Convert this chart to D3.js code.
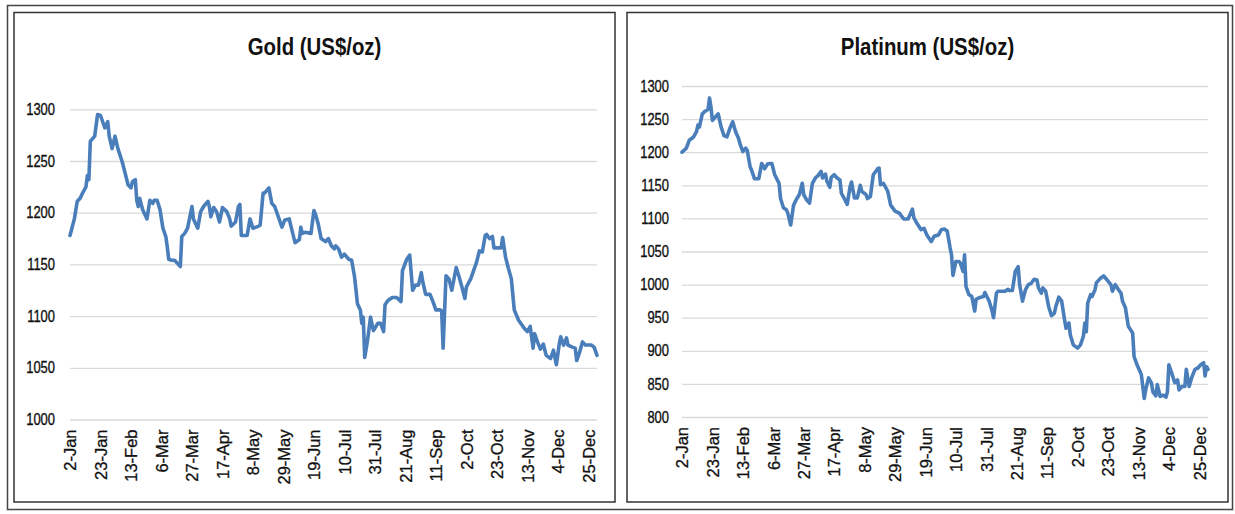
<!DOCTYPE html>
<html>
<head>
<meta charset="utf-8">
<script src="https://cdn.jsdelivr.net/npm/d3@7"></script>
<style>
	body { margin: 0; background: #fff; }
	text { font-family: "Liberation Sans", Arial, sans-serif; fill: #111; }
</style>
</head>
<body>
<div id="chart"></div>
<script>
//-------------------------------------
// data (day offset from 2-Jan-2015, US$/oz)
//-------------------------------------
var startDate = new Date(2015, 0, 2);
var endDate = new Date(2015, 11, 31);
var tickStepDays = 21;

var goldTicks = [1000, 1050, 1100, 1150, 1200, 1250, 1300];
var platinumTicks = [800, 850, 900, 950, 1000, 1050, 1100, 1150, 1200, 1250, 1300];

var goldSeries = [
	[0,1178],[3,1194],[5,1211],[7,1214],[9,1220],[11,1225],[12,1236],[13,1232],[14,1269],[17,1274],
	[19,1295],[21,1294],[23,1286],[24,1282],[26,1288],[27,1274],[29,1262],[31,1274],[33,1262],[36,1249],
	[38,1238],[40,1227],[42,1224],[43,1230],[45,1232],[46,1212],[47,1206],[48,1214],[50,1203],[53,1194],
	[55,1212],[57,1209],[58,1212],[60,1212],[62,1203],[64,1185],[66,1177],[67,1167],[68,1155],[70,1154],
	[72,1154],[74,1151],[76,1148],[77,1177],[79,1180],[81,1185],[84,1206],[85,1194],[88,1185],[90,1201],
	[92,1206],[95,1211],[96,1206],[97,1196],[99,1205],[101,1201],[103,1191],[105,1205],[108,1201],[110,1194],
	[111,1187],[114,1191],[116,1206],[117,1208],[118,1178],[122,1178],[124,1194],[126,1185],[130,1187],[131,1188],
	[133,1219],[134,1219],[137,1224],[139,1209],[141,1206],[144,1194],[146,1186],[148,1193],[151,1194],[152,1188],
	[155,1171],[158,1174],[159,1186],[160,1180],[162,1181],[166,1180],[168,1202],[169,1199],[171,1189],[173,1175],
	[176,1172],[178,1175],[180,1168],[182,1165],[183,1168],[185,1165],[187,1157],[189,1160],[192,1155],[194,1154],
	[196,1138],[198,1112],[200,1106],[201,1093],[202,1099],[203,1060],[205,1077],[207,1099],[209,1086],[212,1093],
	[214,1093],[216,1085],[217,1111],[219,1115],[222,1118],[225,1118],[228,1114],[229,1144],[232,1155],[234,1159],
	[236,1125],[238,1130],[240,1130],[242,1142],[243,1133],[245,1121],[248,1121],[250,1114],[252,1106],[255,1106],
	[256,1105],[257,1069],[259,1139],[261,1136],[263,1125],[266,1147],[268,1138],[270,1128],[272,1117],[273,1128],
	[276,1136],[278,1144],[280,1152],[282,1163],[284,1162],[286,1178],[287,1179],[289,1175],[291,1177],[292,1166],
	[295,1166],[297,1166],[298,1176],[300,1157],[302,1146],[304,1136],[306,1106],[309,1096],[313,1088],[315,1085],
	[317,1090],[319,1069],[320,1083],[322,1075],[324,1068],[326,1073],[328,1062],[331,1059],[333,1067],[335,1053],
	[337,1073],[338,1080],[340,1072],[342,1079],[343,1072],[346,1070],[348,1069],[349,1057],[351,1065],[353,1075],
	[355,1072],[359,1072],[361,1070],[363,1062]
];

var platinumSeries = [
	[0,1200],[3,1206],[5,1218],[8,1223],[10,1231],[11,1241],[12,1238],[14,1258],[16,1262],[18,1265],
	[19,1282],[20,1268],[21,1248],[23,1253],[25,1258],[27,1238],[29,1225],[31,1223],[33,1236],[35,1246],
	[37,1231],[39,1221],[40,1213],[42,1201],[44,1206],[45,1203],[47,1178],[48,1173],[50,1160],[52,1160],
	[53,1160],[55,1183],[57,1175],[59,1182],[61,1183],[62,1183],[64,1166],[67,1153],[68,1130],[70,1116],
	[72,1113],[73,1108],[75,1090],[77,1120],[79,1129],[81,1136],[83,1153],[84,1136],[86,1128],[88,1123],
	[90,1153],[92,1161],[94,1165],[96,1171],[97,1161],[99,1167],[100,1156],[102,1147],[103,1162],[105,1166],
	[107,1161],[109,1158],[110,1138],[112,1130],[114,1121],[116,1148],[117,1155],[119,1131],[121,1131],[123,1150],
	[124,1141],[127,1136],[128,1130],[130,1133],[132,1166],[135,1175],[136,1176],[137,1151],[139,1153],[142,1141],
	[144,1120],[147,1111],[150,1108],[153,1099],[156,1099],[159,1114],[160,1101],[162,1093],[165,1083],[167,1085],
	[169,1075],[172,1065],[174,1073],[177,1075],[179,1083],[181,1084],[183,1081],[185,1056],[186,1045],[187,1014],
	[189,1035],[191,1035],[192,1033],[194,1020],[195,1045],[196,997],[198,985],[200,982],[202,960],[203,978],
	[205,980],[208,982],[209,988],[212,975],[214,960],[215,950],[217,987],[218,990],[221,990],[223,990],
	[225,993],[226,991],[228,991],[230,1020],[232,1027],[233,1000],[235,975],[237,992],[239,1000],[241,1002],
	[243,1008],[245,1007],[246,995],[248,987],[249,995],[251,990],[253,967],[255,953],[257,957],[258,967],
	[260,981],[262,975],[264,947],[265,934],[267,942],[268,924],[270,909],[273,904],[275,909],[277,922],
	[278,942],[279,929],[280,972],[282,985],[283,982],[285,992],[286,1003],[289,1010],[291,1013],[293,1008],
	[296,1000],[297,990],[299,1000],[301,993],[303,987],[304,975],[306,965],[308,937],[311,927],[312,891],
	[314,879],[316,869],[317,864],[319,828],[320,841],[322,859],[324,851],[325,838],[327,832],[328,849],
	[330,831],[332,833],[334,830],[335,838],[336,879],[338,866],[340,852],[342,856],[343,841],[345,846],
	[347,846],[348,872],[350,846],[352,861],[354,872],[356,874],[358,879],[360,882],[361,862],[362,876],
	[363,872]
];

//-------------------------------------
// field
//-------------------------------------
var width = 1235;
var height = 514;

var svg = d3.select("#chart")
	.append("svg")
	.attr("width", width)
	.attr("height", height);

// outer frame
svg.append("rect")
	.attr("x", 7.5).attr("y", 5.5)
	.attr("width", 1225).attr("height", 504)
	.style("fill", "none").style("stroke", "#444").style("stroke-width", 1.5);

var tickDates = d3.range(0, 18).map(function(i) {
	return d3.timeDay.offset(startDate, i * tickStepDays);
});
var fmt = d3.timeFormat("%-d-%b");

function drawPanel(box, plot, title, ticks, series) {
	var g = svg.append("g");

	g.append("rect")
		.attr("x", box.x).attr("y", box.y)
		.attr("width", box.w).attr("height", box.h)
		.style("fill", "#fff").style("stroke", "#333").style("stroke-width", 1.5);

	// narrow look of the original: squeeze text sideways
	g.append("text")
		.attr("transform", "translate(" + (box.x + box.w / 2) + ",55) scale(0.85,1)")
		.attr("text-anchor", "middle")
		.style("font-size", "24px")
		.style("font-weight", "bold")
		.text(title);

	var x = d3.scaleTime()
		.domain([startDate, endDate])
		.range([plot.left, plot.right]);

	var y = d3.scaleLinear()
		.domain([ticks[0], ticks[ticks.length - 1]])
		.range([plot.bottom, plot.top]);

	// y axis + gridlines
	var ya = g.append("g")
		.attr("transform", "translate(" + plot.left + ",0)")
		.call(d3.axisLeft(y)
			.tickValues(ticks)
			.tickSize(-(plot.right - plot.left))
			.tickFormat(d3.format("d")));
	ya.select(".domain").remove();
	ya.selectAll("line").style("stroke", "#d9d9d9").style("stroke-width", 1.3);
	ya.selectAll("text")
		.attr("x", 0)
		.attr("transform", "translate(" + (-plot.pad) + ",0) scale(0.81,1)")
		.style("font-size", "16px")
		.style("font-family", null)
		.style("stroke", "#111").style("stroke-width", 0.35);

	// x axis labels
	var xa = g.append("g")
		.attr("transform", "translate(0," + plot.bottom + ")")
		.call(d3.axisBottom(x)
			.tickValues(tickDates)
			.tickSize(0)
			.tickFormat(fmt));
	xa.select(".domain").remove();
	xa.selectAll("text")
		.attr("transform", "rotate(-90)")
		.attr("text-anchor", "end")
		.attr("x", -10)
		.attr("y", 0)
		.attr("dy", "0.35em")
		.style("font-size", "16.5px")
		.style("font-family", null)
		.style("stroke", "#111").style("stroke-width", 0.3);

	var line = d3.line()
		.x(function(d) { return x(d3.timeDay.offset(startDate, d[0])); })
		.y(function(d) { return y(d[1]); });

	g.append("path")
		.datum(series)
		.attr("d", line)
		.style("fill", "none")
		.style("stroke", "#4a7ebb")
		.style("stroke-width", 3.6)
		.style("stroke-linejoin", "round")
		.style("stroke-linecap", "round");
}

drawPanel(
	{ x: 14, y: 12.5, w: 601, h: 489.5 },
	{ left: 70, right: 597, top: 109.3, bottom: 419.5, pad: 15 },
	"Gold (US$/oz)", goldTicks, goldSeries);

drawPanel(
	{ x: 627, y: 12.5, w: 601, h: 489.5 },
	{ left: 682, right: 1208, top: 86, bottom: 417, pad: 13 },
	"Platinum (US$/oz)", platinumTicks, platinumSeries);
</script>
</body>
</html>
